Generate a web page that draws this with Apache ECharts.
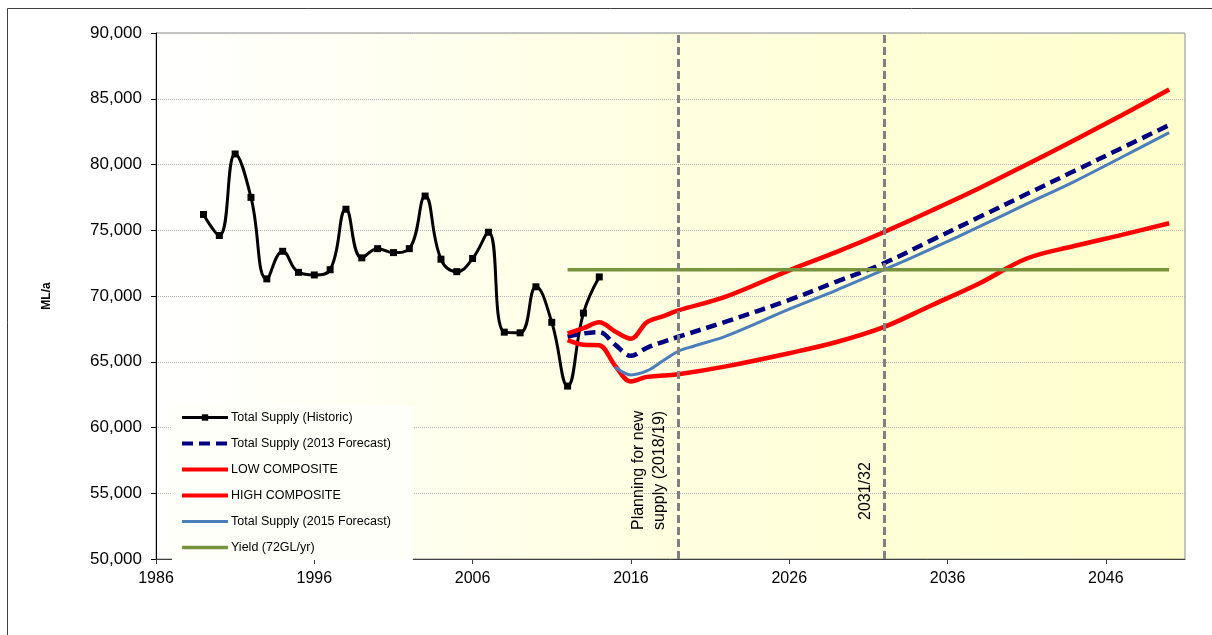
<!DOCTYPE html>
<html><head><meta charset="utf-8">
<script src="https://cdn.jsdelivr.net/npm/echarts@6/dist/echarts.min.js"></script>
<style>html,body{margin:0;padding:0;background:#fff}#c{width:1212px;height:635px}</style>
</head><body><div id="c"></div>
<script>
// ---- data ----
const histYears = [1989,1990,1991,1992,1993,1994,1995,1996,1997,1998,1999,2000,2001,2002,2003,2004,2005,2006,2007,2008,2009,2010,2011,2012,2013,2014];
const histValues = [76200,74600,80800,77500,71300,73400,71800,71600,72000,76600,72900,73600,73300,73600,77600,72800,71850,72850,74850,67250,67200,70700,68000,63150,68700,71450];

const f2013Years = [2012,2013,2014,2015,2016,2017,2018,2019,2022,2026,2029,2032,2035,2038,2041,2044,2047,2050];
const f2013Values = [66900,67150,67250,66300,65450,66050,66500,66900,68050,69700,71100,72500,74250,76000,77750,79500,81250,83000];

const lowYears = [2012,2013,2014,2015,2016,2017,2018,2019,2022,2026,2029,2032,2035,2038,2041,2044,2047,2050];
const lowValues = [66650,66300,66250,64700,63500,63850,63950,64050,64650,65650,66500,67650,69300,70950,72850,73800,74650,75530];

const highYears = [2012,2013,2014,2015,2016,2017,2018,2019,2022,2026,2029,2032,2035,2038,2041,2044,2047,2050];
const highValues = [67150,67550,68000,67300,66750,68000,68450,68900,69950,71950,73350,74870,76500,78190,80000,81850,83750,85700];

const f2015Years = [2015,2016,2017,2018,2019,2020,2022,2026,2029,2032,2035,2038,2041,2044,2047,2050];
const f2015Values = [64600,64000,64300,65050,65800,66200,66950,69000,70450,72000,73600,75270,77000,78700,80550,82420];

const yieldYears = [2012,2050];
const yieldValues = [72000,72000];

const markerYears = [2019,2032];
const markerLabels = ['Planning for new\nsupply (2018/19)','2031/32'];

const seriesNames = ['Total Supply (Historic)','Total Supply (2013 Forecast)','LOW COMPOSITE','HIGH COMPOSITE','Total Supply (2015 Forecast)','Yield (72GL/yr)'];

// ---- chart ----
const zip = (xs, ys) => xs.map((x, i) => [x, ys[i]]);
const FONT = '"Liberation Sans", Arial, sans-serif';
const chart = echarts.init(document.getElementById('c'));

const legendLineWidths = [3, 4, 4, 4, 3, 3.5];

const option = {
  animation: false,
  backgroundColor: '#fff',
  textStyle: { fontFamily: FONT },
  grid: {
    left: 156, right: 27, top: 33, bottom: 76,
    show: true,
    borderColor: '#8c8c8c', borderWidth: 1,
    backgroundColor: new echarts.graphic.LinearGradient(0, 0, 1, 0, [
      { offset: 0, color: '#ffffff' },
      { offset: 0.5, color: '#ffffe0' },
      { offset: 1, color: '#ffffcc' }
    ])
  },
  xAxis: {
    type: 'value', min: 1986, max: 2051, interval: 10,
    axisLine: { show: true, lineStyle: { color: '#404040', width: 1 } },
    axisTick: { show: true, inside: false, length: 5, lineStyle: { color: '#404040' } },
    axisLabel: { fontSize: 16, color: '#000', margin: 12, fontFamily: FONT, showMaxLabel: false,
      formatter: v => (v % 10 === 6 ? String(v) : '') },
    splitLine: { show: false }
  },
  yAxis: {
    type: 'value', min: 50000, max: 90000, interval: 5000,
    name: 'ML/a', nameLocation: 'middle', nameGap: 103,
    nameTextStyle: { fontSize: 12, fontWeight: 'bold', color: '#000', fontFamily: FONT },
    axisLine: { show: true, lineStyle: { color: '#000', width: 1 } },
    axisTick: { show: true, inside: false, length: 5, lineStyle: { color: '#000' } },
    axisLabel: { fontSize: 17, color: '#000', margin: 14, fontFamily: FONT,
      formatter: v => v.toLocaleString('en-US') },
    splitLine: { show: true, lineStyle: { color: '#b4b4b4', type: [1, 1], width: 1 } }
  },
  legend: {
    orient: 'vertical', left: 172, top: 405,
    itemWidth: 46, itemHeight: 8, itemGap: 13,
    padding: [6, 22, 6, 8],
    backgroundColor: '#fffffa',
    itemStyle: { opacity: 0 },
    textStyle: { fontSize: 12.5, color: '#000', fontFamily: FONT, padding: [0, 0, 0, -2] },
    data: seriesNames.map((n, i) => ({
      name: n,
      itemStyle: { opacity: i === 0 ? 1 : 0 },
      lineStyle: { width: legendLineWidths[i] }
    })),
    z: 10
  },
  series: [
    {
      name: seriesNames[0], type: 'line', data: zip(histYears, histValues), smooth: 0.45,
      symbol: 'rect', symbolSize: 7, showSymbol: true,
      itemStyle: { color: '#000' }, lineStyle: { color: '#000', width: 3 }, z: 3
    },
    {
      name: seriesNames[1], type: 'line', data: zip(f2013Years, f2013Values), smooth: 0.35,
      symbol: 'none', itemStyle: { color: '#000080' },
      lineStyle: { color: '#000080', width: 4.5, type: [11, 6] }, z: 3
    },
    {
      name: seriesNames[2], type: 'line', data: zip(lowYears, lowValues), smooth: 0.35,
      symbol: 'none', itemStyle: { color: '#ff0000' },
      lineStyle: { color: '#ff0000', width: 4.5 }, z: 3
    },
    {
      name: seriesNames[3], type: 'line', data: zip(highYears, highValues), smooth: 0.35,
      symbol: 'none', itemStyle: { color: '#ff0000' },
      lineStyle: { color: '#ff0000', width: 4.5 }, z: 3
    },
    {
      name: seriesNames[4], type: 'line', data: zip(f2015Years, f2015Values), smooth: 0.35,
      symbol: 'none', itemStyle: { color: '#4a7ebb' },
      lineStyle: { color: '#4a7ebb', width: 3 }, z: 3
    },
    {
      name: seriesNames[5], type: 'line', data: zip(yieldYears, yieldValues),
      symbol: 'none', itemStyle: { color: '#77933c' },
      lineStyle: { color: '#77933c', width: 3.5 }, z: 3,
      markLine: {
        silent: true, symbol: ['none', 'none'], z: 5,
        label: { show: false },
        lineStyle: { color: '#808080', width: 3, type: [8, 4] },
        data: markerYears.map(y => ({ xAxis: y }))
      }
    }
  ]
};
chart.setOption(option);

// annotations next to the vertical lines
const graphics = markerYears.map((yr, i) => {
  const p = chart.convertToPixel({ gridIndex: 0 }, [yr, 50000]);
  const bottomOffset = i === 0 ? 29 : 39;
  return {
    type: 'text', x: p[0] - 8, y: p[1] - bottomOffset, rotation: Math.PI / 2, z: 20,
    style: { text: markerLabels[i], fontSize: 16, fontFamily: FONT, fill: '#000',
      align: 'left', verticalAlign: 'bottom', lineHeight: 21 }
  };
});
graphics.push({
  type: 'rect', shape: { x: 7.5, y: 8.5, width: 1215, height: 640 }, silent: true, z: -1,
  style: { fill: null, stroke: '#404040', lineWidth: 1 }
});
chart.setOption({ graphic: graphics });
</script></body></html>
